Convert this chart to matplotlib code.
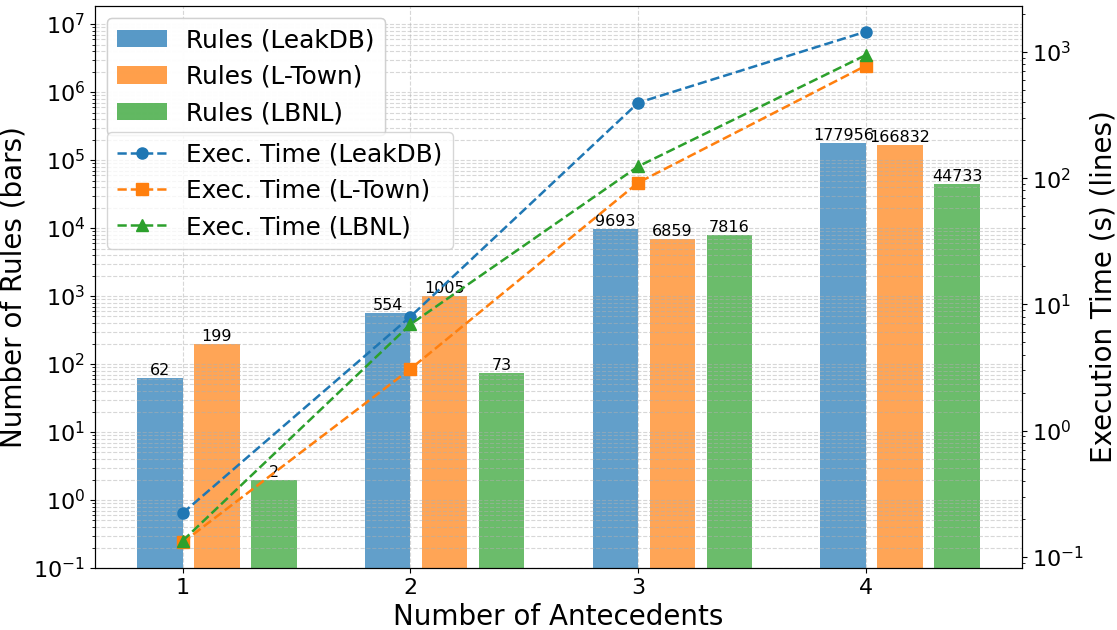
import numpy as np
import matplotlib
matplotlib.use('Agg')
from matplotlib import pyplot as plt

# data
antecedents = [1, 2, 3, 4]
datasets = ['LeakDB', 'L-Town', 'LBNL']
rules_leakdb = [62, 554, 9693, 177956]
rules_ltown = [199, 1005, 6859, 166832]
rules_lbnl = [2, 73, 7816, 44733]
time_leakdb = [0.222, 8.0, 396, 1449]
time_ltown = [0.130, 3.08, 92.2, 779]
time_lbnl = [0.134, 6.95, 124, 946]

rules = [rules_leakdb, rules_ltown, rules_lbnl]
times = [time_leakdb, time_ltown, time_lbnl]
colors = ['tab:blue', 'tab:orange', 'tab:green']
markers = ['o', 's', '^']

fig = plt.figure(figsize=(11.17, 6.3), dpi=100)
ax1 = fig.add_axes([0.085, 0.0984, 0.83, 0.892])
ax2 = ax1.twinx()

x = np.array(antecedents)
width = 0.2
bar_handles = []
for i, (name, vals) in enumerate(zip(datasets, rules)):
    pos = x - 0.1 + i * 0.25
    b = ax1.bar(pos, vals, width, color=colors[i], alpha=0.7, label=f'Rules ({name})')
    bar_handles.append(b)
    # value on top of each bar
    for px, v in zip(pos, vals):
        ax1.text(px, v, str(v), ha='center', va='bottom', fontsize=11.5)

ax1.set_yscale('log')
ax1.set_ylim(0.1, 1.84e7)
ax1.set_xticks(antecedents)
ax1.set_xlabel('Number of Antecedents', fontsize=20)
ax1.set_ylabel('Number of Rules (bars)', fontsize=20)
ax1.tick_params(axis='both', labelsize=16)
ax1.grid(True, which='both', ls='--', alpha=0.5)

line_handles = []
for i, (name, vals) in enumerate(zip(datasets, times)):
    l, = ax2.plot(x, vals, ls='--', lw=1.8, marker=markers[i], color=colors[i],
                  markersize=8, label=f'Exec. Time ({name})')
    line_handles.append(l)

ax2.set_yscale('log')
ax2.set_ylabel('Execution Time (s) (lines)', fontsize=20)
ax2.tick_params(axis='y', labelsize=16)

leg1 = ax1.legend(handles=bar_handles, loc='upper left', fontsize=17.8)
ax1.add_artist(leg1)
ax2.legend(handles=line_handles, loc='upper left', bbox_to_anchor=(0, 0.797), fontsize=17.8)

plt.savefig('out.png')
